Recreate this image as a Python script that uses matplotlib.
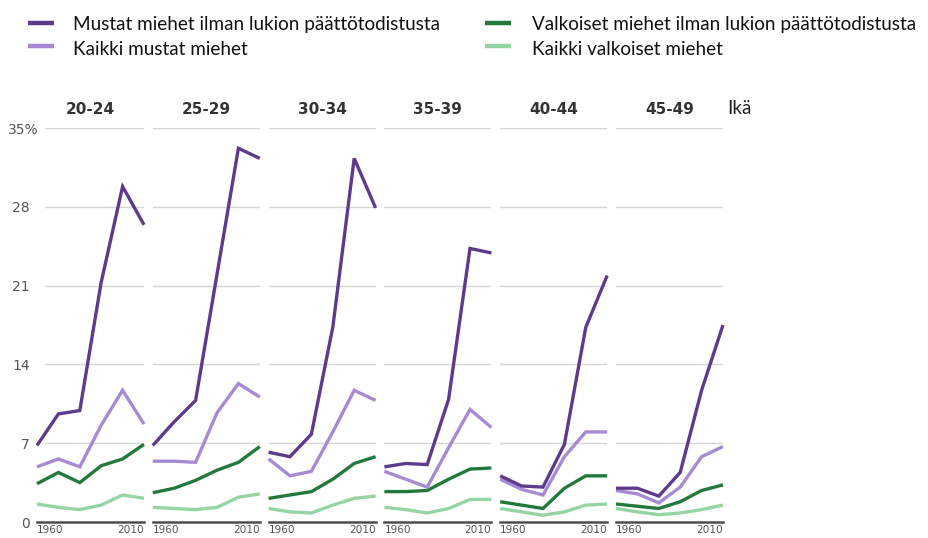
import matplotlib
matplotlib.use('Agg')
import matplotlib.pyplot as plt
from matplotlib.lines import Line2D
from matplotlib.transforms import ScaledTranslation

years = [1960, 1970, 1980, 1990, 2000, 2010]
age_groups = ['20-24', '25-29', '30-34', '35-39', '40-44', '45-49']

black_no_diploma = [
    [6.8, 9.6, 9.9, 21.3, 29.8, 26.4],
    [6.8, 8.9, 10.8, 22.0, 33.2, 32.3],
    [6.2, 5.8, 7.8, 17.3, 32.3, 27.9],
    [4.9, 5.2, 5.1, 10.9, 24.3, 23.9],
    [4.1, 3.2, 3.1, 6.9, 17.3, 21.9],
    [3.0, 3.0, 2.3, 4.4, 11.7, 17.5],
]
black_all = [
    [4.9, 5.6, 4.9, 8.6, 11.7, 8.7],
    [5.4, 5.4, 5.3, 9.7, 12.3, 11.1],
    [5.6, 4.1, 4.5, 8.0, 11.7, 10.8],
    [4.5, 3.8, 3.1, 6.6, 10.0, 8.4],
    [3.8, 2.9, 2.4, 5.8, 8.0, 8.0],
    [2.8, 2.5, 1.7, 3.1, 5.8, 6.7],
]
white_no_diploma = [
    [3.4, 4.4, 3.5, 5.0, 5.6, 6.9],
    [2.6, 3.0, 3.7, 4.6, 5.3, 6.7],
    [2.1, 2.4, 2.7, 3.8, 5.2, 5.8],
    [2.7, 2.7, 2.8, 3.8, 4.7, 4.8],
    [1.8, 1.5, 1.2, 3.0, 4.1, 4.1],
    [1.6, 1.4, 1.2, 1.8, 2.8, 3.3],
]
white_all = [
    [1.6, 1.3, 1.1, 1.5, 2.4, 2.1],
    [1.3, 1.2, 1.1, 1.3, 2.2, 2.5],
    [1.2, 0.9, 0.8, 1.5, 2.1, 2.3],
    [1.3, 1.1, 0.8, 1.2, 2.0, 2.0],
    [1.2, 0.9, 0.6, 0.9, 1.5, 1.6],
    [1.2, 0.9, 0.65, 0.8, 1.1, 1.5],
]

y_ticks = [0, 7, 14, 21, 28, 35]
y_tick_labels = ['0', '7', '14', '21', '28', '35%']
x_ticks = [1960, 2010]
x_tick_labels = ['1960', '2010']

series_labels = [
    'Mustat miehet ilman lukion päättötodistusta',
    'Kaikki mustat miehet',
    'Valkoiset miehet ilman lukion päättötodistusta',
    'Kaikki valkoiset miehet',
]
colors = ['#5e3a8c', '#a68ad3', '#22793b', '#95d4a3']
series = [black_no_diploma, black_all, white_no_diploma, white_all]
draw_order = [3, 2, 1, 0]

W, H = 929, 538
fig = plt.figure(figsize=(W / 100, H / 100), dpi=100)

def fx(px):
    return px / W

def fy(py):
    return 1 - py / H

label_font = ['Lato', 'DejaVu Sans']
y0_px, y35_px = 522, 128
panel_left0, panel_step, panel_w = 37, 115.8, 107

axes = []
for i, grp in enumerate(age_groups):
    left = panel_left0 + i * panel_step
    ax = fig.add_axes([fx(left), fy(y0_px), panel_w / W, (y0_px - y35_px) / H])
    ax.set_xlim(1960, 2010)
    ax.set_ylim(0, 35)
    for s in ax.spines.values():
        s.set_visible(False)
    xmin = 0.075 if i == 0 else 0.0
    for yv in y_ticks[1:]:
        ax.axhline(yv, xmin=xmin, xmax=1, color='#d6d6d6', lw=1.0, zorder=1)
    ax.axhline(0, color='#4d4d4d', lw=1.8, zorder=4, clip_on=False)
    for k in draw_order:
        ax.plot(years, series[k][i], color=colors[k], lw=2.4,
                solid_joinstyle='miter', solid_capstyle='butt', zorder=3, clip_on=False)
    ax.set_xticks(x_ticks)
    ax.set_xticklabels(x_tick_labels, fontsize=7.6, color='#555555')
    ax.tick_params(axis='x', length=0, pad=2)
    xl = ax.get_xticklabels()
    xl[0].set_horizontalalignment('left')
    xl[1].set_horizontalalignment('right')
    ax.set_yticks(y_ticks)
    if i == 0:
        ax.set_yticklabels(y_tick_labels, fontsize=10, color='#555555')
        ax.tick_params(axis='y', length=0, pad=5)
        yl = ax.get_yticklabels()
        yl[-1].set_transform(yl[-1].get_transform() +
                             ScaledTranslation(9 / 100, 0, fig.dpi_scale_trans))
    else:
        ax.set_yticklabels([])
        ax.tick_params(axis='y', length=0)
    fig.text(fx(left + panel_w / 2), fy(110), grp, ha='center', va='center',
             fontsize=11, fontweight='bold', color='#333333')
    axes.append(ax)

fig.text(fx(727), fy(109), 'Ikä', ha='left', va='center', fontsize=13.5,
         color='#222222', family=label_font)

# legend
legend_pos = [(28, 73, 23, 30), (28, 73, 46, 55), (485, 532, 23, 30), (485, 532, 46, 55)]
for k, (hx, tx, hy, by) in enumerate(legend_pos):
    fig.add_artist(Line2D([fx(hx), fx(hx + 26)], [fy(hy), fy(hy)], transform=fig.transFigure,
                          color=colors[k], lw=3.2, solid_capstyle='butt'))
    fig.text(fx(tx), fy(by), series_labels[k], ha='left', va='baseline', fontsize=13.6,
             color='#111111', family=label_font)

fig.savefig('out.png', dpi=100)
